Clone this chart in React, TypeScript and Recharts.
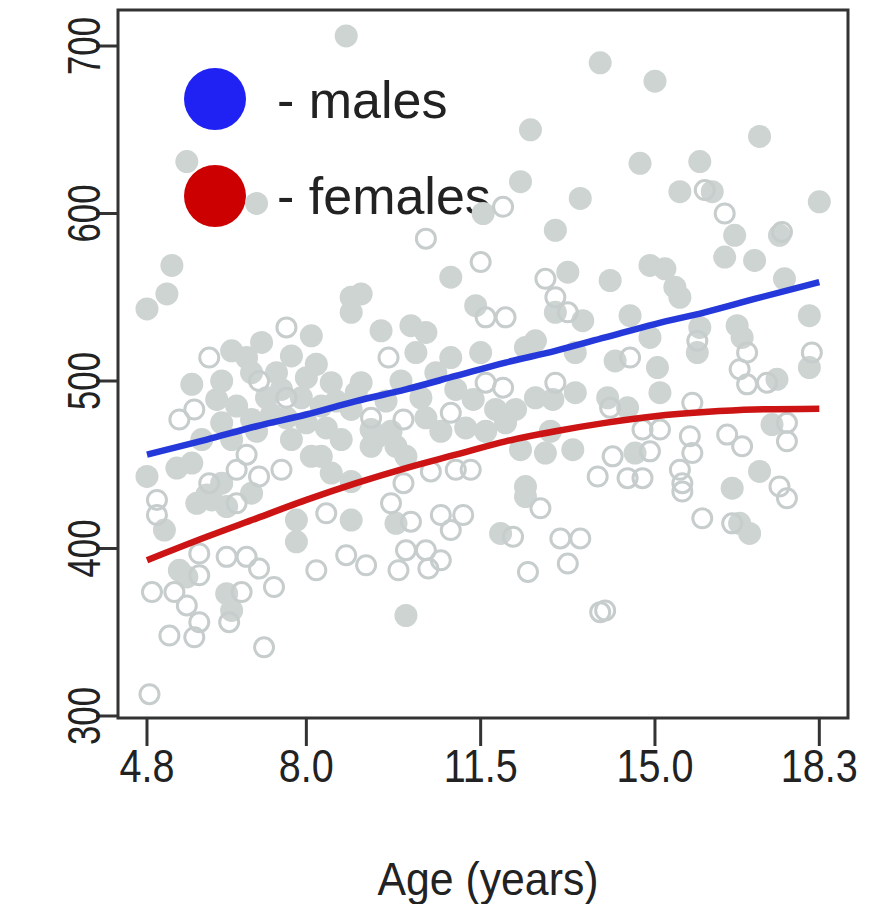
import { ScatterChart, Scatter, XAxis, YAxis, ReferenceArea } from 'recharts';

// grey points: filled = males, hollow = females  [age, value]
const malePoints: [number, number][] = [
  [8.8, 706], [13.9, 690], [15.0, 679], [17.1, 646], [12.5, 650], [14.7, 630], [15.9, 631],
  [5.6, 631], [7.0, 606], [12.3, 619], [13.5, 609], [13.0, 590], [11.55, 600], [15.5, 613],
  [16.15, 613], [16.6, 587], [17.5, 587], [18.3, 607], [16.4, 574], [17.0, 572],
  [5.3, 569], [5.2, 552], [4.8, 543], [8.9, 550], [8.9, 541],
  [8.1, 527], [6.5, 518], [6.8, 514], [7.1, 523], [7.7, 515], [5.7, 498], [6.6, 485],
  [7.2, 490], [8.0, 502], [8.5, 499], [8.3, 485], [8.9, 483], [7.6, 478], [8.0, 475],
  [8.4, 472], [4.8, 443], [5.4, 448], [5.7, 451], [8.3, 455], [6.3, 439], [6.2, 489],
  [6.9, 477], [7.7, 465], [8.7, 465], [6.5, 465], [7.5, 495], [5.9, 465], [8.1, 455],
  [8.5, 445], [8.9, 440],
  [6.3, 500], [6.9, 505], [7.3, 480], [7.9, 490], [8.6, 488], [7.0, 470], [6.3, 475],
  [8.2, 510], [7.4, 505], [9.0, 493],
  [10.9, 562], [13.25, 565], [9.1, 552], [11.4, 545], [13.0, 541], [13.55, 536], [9.5, 530],
  [10.1, 533], [10.4, 529], [10.2, 517], [10.9, 514], [11.5, 517], [12.6, 524], [12.4, 520],
  [13.4, 517], [9.1, 499], [11.0, 495], [11.35, 489], [13.4, 493], [12.95, 489], [10.4, 478],
  [11.2, 472], [11.8, 483], [12.2, 483], [9.3, 471], [9.3, 461], [9.8, 461], [12.3, 459],
  [12.8, 457], [13.35, 459], [12.4, 437], [9.4, 466], [9.7, 470],
  [9.6, 488], [10.3, 490], [10.7, 470], [10.0, 455], [11.6, 470], [12.0, 475], [12.6, 490],
  [12.9, 470], [10.6, 505], [9.9, 500],
  [14.9, 569], [15.2, 567], [15.4, 556], [15.5, 550], [14.1, 560], [17.6, 561], [14.5, 539],
  [18.1, 539], [15.9, 532], [15.85, 517], [16.65, 533], [16.75, 526], [14.9, 526], [14.2, 512],
  [15.05, 508], [17.45, 501], [18.1, 508], [15.1, 493], [14.05, 490], [14.45, 484], [17.35, 474],
  [14.6, 457], [17.1, 446], [16.55, 436],
  [5.15, 411], [5.8, 427], [6.1, 429], [7.8, 417], [7.8, 404], [8.9, 417], [5.45, 387],
  [5.6, 383], [6.4, 373], [6.5, 363], [6.0, 432], [6.4, 425], [6.9, 433],
  [9.8, 415], [10.0, 360], [11.9, 409], [12.4, 431], [16.7, 415], [16.9, 409],
];

const femalePoints: [number, number][] = [
  [10.4, 585], [11.95, 604], [11.5, 571], [16.0, 614], [16.4, 600], [17.55, 589],
  [7.6, 532], [6.05, 514], [5.75, 483], [7.05, 500], [7.6, 490], [6.8, 456], [7.5, 447],
  [7.05, 443], [6.6, 447], [6.05, 439], [5.45, 477],
  [12.8, 561], [11.6, 538], [12.0, 538], [13.25, 541], [13.0, 550], [9.65, 514], [11.6, 499],
  [11.95, 496], [13.0, 499], [9.95, 477], [10.9, 481], [9.3, 478], [9.95, 439], [10.5, 446],
  [11.0, 447], [11.3, 447], [13.85, 443],
  [15.85, 524], [16.85, 517], [18.15, 517], [14.5, 514], [16.7, 507], [16.85, 498], [17.25, 499],
  [14.1, 484], [15.75, 487], [14.75, 471], [15.1, 471], [15.7, 467], [15.75, 457], [16.45, 468],
  [16.75, 461], [17.65, 475], [17.65, 464], [14.15, 455], [14.9, 458], [14.45, 442], [14.75, 442],
  [15.5, 447], [15.55, 439], [17.5, 437],
  [5.0, 429], [5.0, 420], [6.6, 427], [8.4, 421], [8.8, 396], [8.2, 387], [5.85, 384],
  [4.9, 374], [5.35, 374], [5.6, 366], [5.85, 356], [5.75, 347], [5.25, 348], [6.45, 356],
  [6.7, 374], [6.8, 395], [7.05, 388], [7.35, 377], [6.4, 395], [7.15, 341], [4.85, 313],
  [5.85, 397],
  [9.7, 427], [10.1, 416], [10.7, 420], [11.15, 420], [10.9, 411], [10.0, 399], [10.4, 399],
  [10.7, 393], [10.45, 388], [9.85, 387], [9.2, 390], [12.15, 407], [12.45, 386], [13.1, 406],
  [13.5, 406], [13.25, 391], [12.7, 424], [13.9, 362],
  [15.95, 418], [16.55, 415], [14.0, 363], [17.65, 430], [15.55, 434],
];

// fitted curves
const fitAges = [4.8, 6, 7, 8, 9, 10, 11, 12, 13, 14, 15, 16, 17, 18.3];
const maleFit = [456, 465, 473, 480, 488, 495, 503, 511, 518, 526, 534, 541, 549, 559];
const femaleFit = [393, 407, 418, 429, 439, 448, 456, 464, 470, 475, 479, 481.5, 483, 483.5];

const xTicks = [4.8, 8.0, 11.5, 15.0, 18.3];
const yTicks = [300, 400, 500, 600, 700];

const FONT = '"Liberation Sans", Arial, Helvetica, sans-serif';
const GREY = '#CDD4D2';

const toRows = (pts: [number, number][]) => pts.map(([age, value]) => ({ age, value }));
const fitRows = (vals: number[]) => fitAges.map((age, i) => ({ age, value: vals[i] }));

const FilledDot = (p: any) => <circle cx={p.cx} cy={p.cy} r={11.5} fill={GREY} />;
const HollowDot = (p: any) => (
  <circle cx={p.cx} cy={p.cy} r={9.5} fill="none" stroke="#C6CDCC" strokeWidth={3} />
);
const NoDot = () => <g />;

const XTick = (p: any) => (
  <text
    transform={`translate(${p.x},${p.y + 34}) scale(0.86,1)`}
    textAnchor="middle"
    fontSize={46}
    fontFamily={FONT}
    fill="#222"
  >
    {p.payload.value.toFixed(1)}
  </text>
);

const YTick = (p: any) => (
  <text
    transform={`translate(${p.x + 6},${p.y}) rotate(-90) scale(0.74,1)`}
    textAnchor="middle"
    fontSize={47}
    fontFamily={FONT}
    fill="#222"
  >
    {p.payload.value}
  </text>
);

export default function App() {
  return (
    <div style={{ position: 'absolute', left: 0, top: 0, background: '#fff' }}>
      <ScatterChart width={877} height={904} margin={{ top: 10, right: 29, bottom: 0, left: 0 }}>
        <XAxis
          type="number"
          dataKey="age"
          domain={[4.218, 18.876]}
          ticks={xTicks}
          allowDataOverflow
          height={186}
          axisLine={false}
          tickLine={{ stroke: '#333', strokeWidth: 3 }}
          tickSize={28}
          tick={<XTick />}
        />
        <YAxis
          type="number"
          dataKey="value"
          domain={[298.8, 721.5]}
          ticks={yTicks}
          allowDataOverflow
          width={118}
          axisLine={false}
          tickLine={{ stroke: '#333', strokeWidth: 3 }}
          tickSize={22}
          tick={<YTick />}
        />
        <Scatter data={toRows(malePoints)} shape={FilledDot} isAnimationActive={false} />
        <Scatter data={toRows(femalePoints)} shape={HollowDot} isAnimationActive={false} />
        <Scatter
          data={fitRows(maleFit)}
          shape={NoDot}
          line={{ stroke: '#2538DA', strokeWidth: 6.5 }}
          lineType="joint"
          lineJointType="monotoneX"
          isAnimationActive={false}
        />
        <Scatter
          data={fitRows(femaleFit)}
          shape={NoDot}
          line={{ stroke: '#CC1414', strokeWidth: 6.5 }}
          lineType="joint"
          lineJointType="monotoneX"
          isAnimationActive={false}
        />
        <ReferenceArea
          x1={4.218}
          x2={18.876}
          y1={298.8}
          y2={721.5}
          fill="none"
          stroke="#333"
          strokeWidth={3}
          ifOverflow="visible"
        />
        <g fontFamily={FONT} fill="#222">
          <circle cx={215} cy={99} r={31} fill="#1F22F2" />
          <circle cx={215} cy={196} r={31} fill="#CC0000" />
          <text x={277} y={118} fontSize={52}>- males</text>
          <text x={277} y={214} fontSize={52}>- females</text>
        </g>
        <text
          x={488}
          y={895}
          textAnchor="middle"
          fontSize={46}
          fontFamily={FONT}
          fill="#222"
          transform="translate(488,0) scale(0.93,1) translate(-488,0)"
        >
          Age (years)
        </text>
      </ScatterChart>
    </div>
  );
}
